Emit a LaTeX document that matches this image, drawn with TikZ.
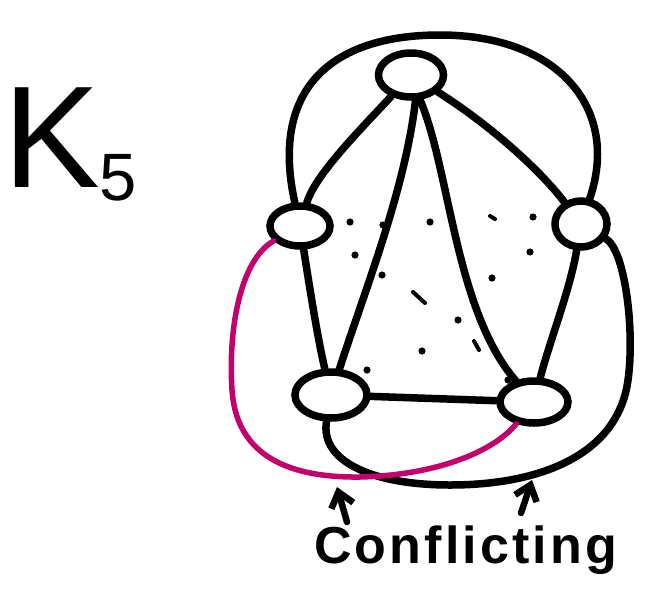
\documentclass[tikz,border=0pt]{standalone}
\usepackage{fontspec}
\setmainfont{Liberation Sans}
\newfontfamily\handfont[LetterSpace=6]{Liberation Sans}
\usepackage{tikz}
\usetikzlibrary{arrows.meta,positioning,shapes.geometric}
\definecolor{clashred}{RGB}{196,0,108}

\begin{document}
\begin{tikzpicture}[
  x=1pt, y=-1pt,
  vert/.style={draw, ellipse, line width=7.5pt, inner sep=0pt},
  edge/.style={line width=7.5pt, line cap=round},
  clash/.style={draw=clashred, line width=5.5pt, line cap=round},
  arr/.style={-{Straight Barb[length=5mm, width=8mm]}, line width=6.5pt, line cap=round}
]
\useasboundingbox (0,0) rectangle (645,603);
% the five vertices
\node[vert, minimum width=65pt, minimum height=44pt] (top) at (411,75) {};
\node[vert, minimum width=60pt, minimum height=40pt] (lft) at (300,226) {};
\node[vert, minimum width=52pt, minimum height=46pt] (rgt) at (581,224) {};
\node[vert, minimum width=72pt, minimum height=46pt] (bl) at (331,395) {};
\node[vert, minimum width=68pt, minimum height=42pt] (br) at (534,402) {};
% inner edges
\draw[edge] (top) .. controls (360,130) and (315,175) .. (lft);
\draw[edge] (top) .. controls (490,125) and (540,170) .. (rgt);
\draw[edge] (top.-80) .. controls (405,190) and (365,290) .. (bl);
\draw[edge] (top.-70) .. controls (450,170) and (455,310) .. (br);
\draw[edge] (lft) .. controls (310,290) and (318,340) .. (bl);
\draw[edge] (rgt) .. controls (570,290) and (550,340) .. (br);
\draw[edge] (bl) -- (br);
% outer edges
\draw[edge] (lft) .. controls (270,90) and (330,35) .. (440,35)
  .. controls (560,35) and (620,110) .. (rgt);
\draw[edge] (rgt) .. controls (625,250) and (635,330) .. (628,380)
  .. controls (618,455) and (540,485) .. (450,485)
  .. controls (370,485) and (320,460) .. (bl);
\draw[clash] (lft) .. controls (240,260) and (228,330) .. (232,390)
  .. controls (236,450) and (280,478) .. (360,477)
  .. controls (440,475) and (495,450) .. (br);
% stray specks
\foreach \p in {(350,222),(355,255),(383,225),(382,275),(430,222),(458,320),
                (422,351),(367,370),(533,217),(530,252),(492,278),(508,380)}
  \fill \p circle (3.6);
\draw[line width=4pt, line cap=round] (413,292) -- (425,303);
\draw[line width=4pt, line cap=round] (490,216) -- (495,219);
\draw[line width=4pt, line cap=round] (474,341) -- (479,350);
% labels
\node[anchor=base west, inner sep=0pt, font=\fontsize{145}{145}\selectfont] (kfive) at (3,187)
  {K\raisebox{-13pt}{\fontsize{67}{67}\selectfont 5}};
\node[anchor=base west, inner sep=0pt, font=\handfont\bfseries\fontsize{52}{52}\selectfont] (note) at (314,563)
  {Conflicting};
\coordinate (hitL) at (337,487);
\coordinate (tailL) at (347,522);
\coordinate (hitR) at (532,480);
\coordinate (tailR) at (521,513);
\draw[arr] (tailL) -- (hitL);
\draw[arr] (tailR) -- (hitR);
\end{tikzpicture}
\end{document}
